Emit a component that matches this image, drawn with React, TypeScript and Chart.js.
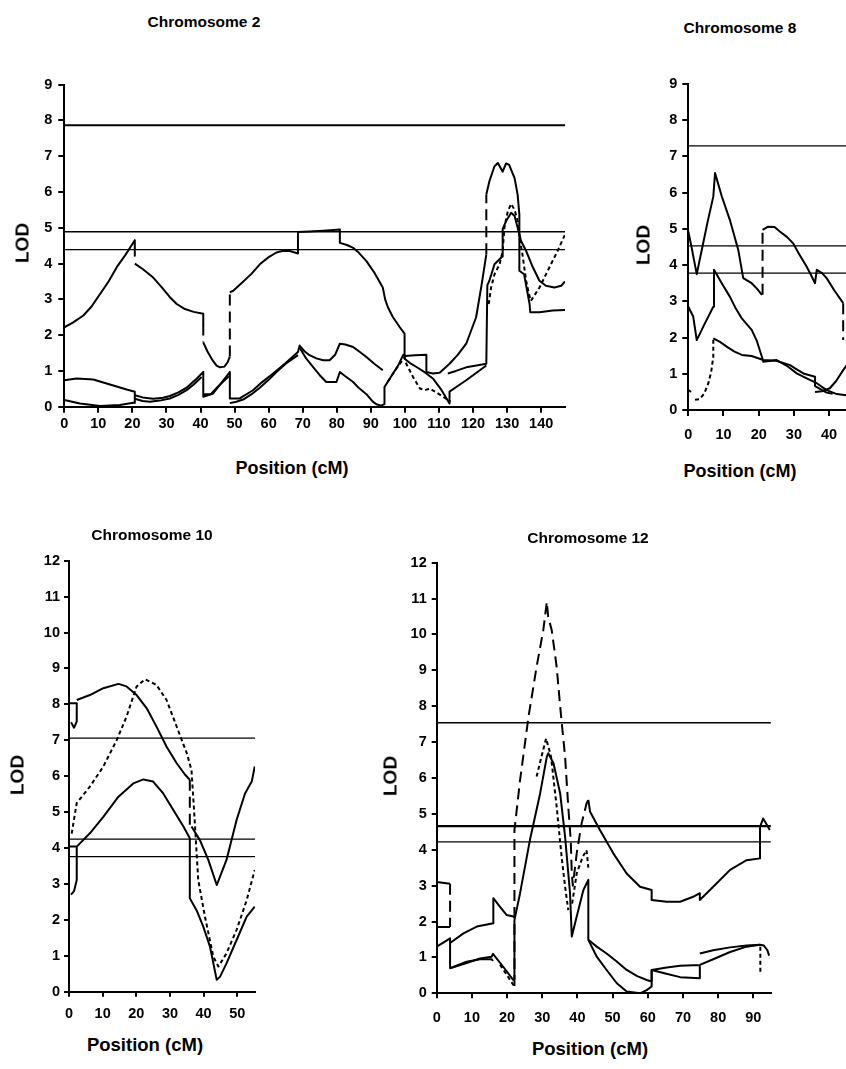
import React, { useEffect, useRef } from 'react';
import { Chart, registerables } from 'chart.js';
Chart.register(...registerables);

type Pt = [number, number] | null;

// ---------------- Chromosome 2 ----------------
const chr2Thresholds = [7.87, 4.89, 4.39];
const chr2Solid1: Pt[] = [
  [0, 2.22], [2.5, 2.35], [5.6, 2.55], [8, 2.8], [10.5, 3.15], [13, 3.5], [15.4, 3.9], [18, 4.25], [20.7, 4.65], [20.7, 4.22], null,
  [20.7, 4.0], [23, 3.85], [26.1, 3.61], [28.5, 3.35], [31, 3.06], [33, 2.87], [35.4, 2.73], [38, 2.65], [40.8, 2.6], [40.8, 2.3], null,
  [40.8, 1.8], [42, 1.55], [43.5, 1.3], [44.7, 1.15], [45.7, 1.1], [47, 1.12], [48, 1.25], [48.6, 1.4], null,
  [48.6, 3.2], [49.6, 3.24], [52, 3.45], [55, 3.72], [57.4, 3.98], [60, 4.18], [62.3, 4.31], [64, 4.35], [66.2, 4.35], [68.6, 4.28], [68.6, 4.88],
  [72, 4.9], [76, 4.92], [80.9, 4.95], [80.9, 4.58], [83, 4.52], [84.8, 4.44], [86.5, 4.3], [88.7, 4.07], [91, 3.75], [93.5, 3.33], [94.2, 3.0],
  [95, 2.78], [96.5, 2.5], [98.5, 2.22], [99.9, 2.04], [99.9, 1.34],
];
const chr2Dash1: Pt[] = [[40.8, 2.3], [40.8, 1.8], null, [48.6, 1.4], [48.6, 3.2], null, [123.9, 4.26], [123.9, 5.93]];
const chr2Solid2: Pt[] = [[0, 0.74], [3.6, 0.79], [8.5, 0.76], [13.4, 0.62], [18.3, 0.48], [20.7, 0.42], [20.7, 0.1]];
const chr2Solid3: Pt[] = [[0, 0.19], [4.6, 0.09], [10.5, 0.02], [16.3, 0.05], [20.7, 0.12]];
const chr2Solid4: Pt[] = [
  [20.7, 0.32], [23, 0.26], [26.1, 0.22], [29, 0.25], [31, 0.3], [33.5, 0.4], [35.9, 0.53], [38.5, 0.75], [40.8, 0.97], [40.8, 0.28],
  [43.7, 0.37], [46, 0.65], [48.6, 0.97], [48.6, 0.23], [51.5, 0.23], [55.4, 0.46], [58, 0.68], [61.3, 0.93], [65, 1.22], [68.6, 1.53],
  [69.1, 1.71], [70.5, 1.55], [72, 1.44], [74, 1.35], [76, 1.3], [77.9, 1.3], [79.5, 1.45], [80.9, 1.76], [82.5, 1.74], [84.8, 1.67],
  [86.5, 1.55], [88.7, 1.39], [91, 1.2], [93.5, 1.02],
];
const chr2Solid5: Pt[] = [
  [20.7, 0.22], [23, 0.16], [25.1, 0.14], [28, 0.17], [31, 0.23], [33.5, 0.33], [35.9, 0.46], [38, 0.62], [40.3, 0.83], null,
  [40.8, 0.35], [43, 0.35], [45, 0.55], [48.3, 0.85], null,
  [48.6, 0.1], [50.5, 0.14], [52.5, 0.2], [55, 0.35], [57.4, 0.53], [60, 0.75], [62.3, 0.97], [65, 1.2], [68.6, 1.44],
];
const chr2Solid6: Pt[] = [
  [69.1, 1.65], [71, 1.35], [73, 1.11], [75, 0.88], [76.9, 0.69], [79.9, 0.69], [80.9, 0.97], [82.5, 0.85], [84.8, 0.69], [86.5, 0.52],
  [88.7, 0.35], [90.5, 0.15], [91.6, 0.07], [93, 0.03], [94, 0.07], [94, 0.55], [96, 0.85], [98, 1.15], [99.5, 1.45], [100, 1.42],
  [103, 1.44], [106.3, 1.45], [106.3, 0.97], [108.2, 0.93], [110.2, 0.95], [113.1, 1.2], [115.5, 1.45], [118, 1.76], [120.9, 2.5],
  [122.5, 3.4], [123.9, 4.26],
];
const chr2Solid7: Pt[] = [
  [123.9, 5.93], [124.8, 6.3], [126.3, 6.72], [127.3, 6.81], [128.7, 6.57], [129.7, 6.8], [130.6, 6.76], [132.2, 6.39], [133.1, 5.92],
  [133.6, 5.37], [133.6, 3.8], [135, 3.7], [136.6, 2.87], [136.8, 2.64], [139.5, 2.64], [143.4, 2.69], [147, 2.7],
];
const chr2Solid8: Pt[] = [
  [99.9, 1.34], [101.5, 1.22], [103.4, 1.11], [106, 0.95], [108.2, 0.79], [110.5, 0.5], [113.1, 0.09], [113.1, 0.42], [115.5, 0.58],
  [118, 0.74], [121, 0.95], [123.9, 1.15], null,
  [112.6, 0.93], [115, 1.0], [118, 1.1], [121, 1.15], [123.9, 1.2], [124.2, 3.4], [124.8, 3.52], [126.3, 3.98], [128.3, 4.17], [128.7, 4.2],
  [128.7, 4.96], [129.7, 5.19], [131.2, 5.42], [132.2, 5.33], [133.1, 5.0], [134.1, 4.63], [135.6, 4.35], [137.6, 3.89], [139.5, 3.52],
  [141.4, 3.38], [143.9, 3.33], [145.9, 3.38], [147, 3.5],
];
const chr2Dot: Pt[] = [
  [95, 0.7], [97, 1.0], [99.9, 1.38], [100.4, 1.2], [102.4, 0.83], [104.4, 0.51], [105.8, 0.46], [107.3, 0.51], [109.7, 0.37], [113.4, 0.14], null,
  [124.6, 2.87], [125.3, 3.33], [126.3, 3.7], [127.8, 3.98], [128.7, 4.35], [129.2, 5.0], [130.2, 5.46], [131.2, 5.67], [132.2, 5.5],
  [133.1, 5.19], [133.8, 4.63], [134.5, 4.26], [135.6, 3.52], [136.4, 3.15], [137, 2.96], [139.5, 3.33], [142.4, 3.89], [144.8, 4.35], [147, 4.81],
];

// ---------------- Chromosome 8 ----------------
const chr8Thresholds = [7.29, 4.53, 3.78];
const chr8Solid1: Pt[] = [
  [0, 4.93], [0.9, 4.51], [1.5, 4.2], [2.4, 3.75], [4, 4.5], [5.5, 5.2], [7.1, 5.89], [7.6, 6.54], [9.5, 5.9], [11.8, 5.25], [14.2, 4.42],
  [15.6, 3.64], [18, 3.5], [19.5, 3.35], [20.9, 3.18],
];
const chr8Dash: Pt[] = [[21.1, 3.18], [21.1, 4.97], null, [44, 2.95], [44, 1.93]];
const chr8Solid2: Pt[] = [
  [21.1, 4.97], [22.7, 5.06], [24.5, 5.05], [26, 4.93], [28, 4.78], [29.8, 4.6], [31.5, 4.3], [33.6, 3.96], [35, 3.7], [36, 3.5], [36.5, 3.87],
  [38, 3.78], [39.3, 3.64], [41.5, 3.3], [44, 2.95],
];
const chr8Solid3: Pt[] = [
  [0, 2.85], [1.4, 2.58], [2.4, 1.93], [4.5, 2.35], [7.1, 2.85], [7.3, 3.87], [9.5, 3.5], [11.8, 3.13], [13.5, 2.8], [15.2, 2.53], [18, 2.21],
  [19.5, 1.9], [20.9, 1.47], [21.3, 1.33], [23, 1.35], [25.1, 1.38], [28, 1.22], [30.8, 1.01], [33.5, 0.88], [36.5, 0.74], [39.3, 0.55],
  [42.2, 0.44], [44.8, 0.41], [47, 0.4],
];
const chr8Solid4: Pt[] = [
  [7.1, 1.98], [9, 1.88], [10.9, 1.75], [13, 1.62], [15.2, 1.52], [18, 1.49], [21.3, 1.38], [25, 1.36], [28.9, 1.24], [30.8, 1.12], [32.7, 1.01],
  [36, 0.92], [36, 0.66], [39.3, 0.48], [41, 0.45],
];
const chr8Solid5: Pt[] = [[36, 0.5], [38, 0.52], [40.2, 0.6], [42, 0.8], [44, 1.1], [45.5, 1.3], [47, 1.6]];
const chr8Dot: Pt[] = [[0, 0.55], [0.8, 0.5], null, [1.9, 0.28], [3.2, 0.3], [4.5, 0.45], [5.7, 0.74], [6.5, 1.05], [7.1, 1.47], [7.1, 1.98]];

// ---------------- Chromosome 10 ----------------
const chr10Thresholds = [7.06, 4.25, 3.76];
const chr10Solid1: Pt[] = [
  [0, 8.03], [2.3, 8.03], [2.3, 7.52], [1.5, 7.35], [0.6, 7.5], null,
  [2.3, 8.12], [6.2, 8.26], [10.2, 8.45], [14.7, 8.57], [17.1, 8.5], [20.1, 8.26], [23.1, 7.89], [26, 7.38], [29, 6.82], [32, 6.36],
  [34.5, 6.04], [35.9, 5.9], null,
  [36.4, 4.6], [38.9, 4.22], [41.4, 3.67], [43.9, 2.97], [46.8, 3.67], [49.8, 4.78], [52.3, 5.52], [54.3, 5.85], [55.2, 6.27],
];
const chr10Dash: Pt[] = [[35.9, 5.9], [35.9, 4.6]];
const chr10Dot: Pt[] = [
  [0.8, 4.4], [1.5, 4.8], [2.3, 5.25], [6.2, 5.71], [10.2, 6.27], [14.2, 7.01], [17.1, 7.66], [20.1, 8.5], [22.6, 8.7], [26, 8.54], [29, 8.12],
  [32, 7.38], [35, 6.64], [36.4, 6.17], [37.2, 5.0], [38.4, 3.11], [40.4, 2.09], [42.9, 0.97], [44.4, 0.7], [46.8, 1.07], [49.8, 1.72],
  [52.8, 2.55], [55.2, 3.39],
];
const chr10Solid2: Pt[] = [
  [0, 4.04], [2.3, 4.04], [2.3, 3.11], [1.5, 2.8], [0.6, 2.7], null,
  [2.3, 4.04], [6.2, 4.41], [10.2, 4.87], [14.7, 5.43], [19.1, 5.8], [22.1, 5.91], [25, 5.85], [28, 5.52], [31, 5.06], [34, 4.6], [35.9, 4.27],
  [35.9, 2.6], [37.9, 2.27], [39.9, 1.81], [41.9, 1.25], [43.9, 0.33], [44.9, 0.42], [46.8, 0.79], [49.8, 1.44], [52.8, 2.09], [55.2, 2.37],
];

// ---------------- Chromosome 12 ----------------
const chr12Thresholds = [7.54, 4.66, 4.22];
const chr12Dash: Pt[] = [
  [3.8, 3.05], [3.8, 1.85], null,
  [22.1, 0.2], [22.1, 4.55], [23.7, 5.94], [26.1, 7.71], [28.4, 9.1], [30.3, 10.12], [31.3, 10.91], [31.7, 10.49], [32.7, 10.12], [34.1, 9.1],
  [35.1, 7.99], [36.5, 6.59], [37.4, 5.2], [38.1, 4.27], [38.4, 3.34], [38.7, 3.0], [39.8, 3.9], [41.2, 4.74], [42.6, 5.29], [43.1, 5.39],
];
const chr12Solid1: Pt[] = [[0, 3.1], [3.8, 3.05], null, [0, 1.85], [3.8, 1.85]];
const chr12Solid2: Pt[] = [
  [0, 1.3], [2, 1.42], [3.8, 1.53], [3.8, 0.7], [8.5, 0.84], [12.3, 0.97], [15.6, 1.02], [16, 1.1], [18.9, 0.74], [21.8, 0.37], [22.1, 0.4],
  [22.1, 2.04], [23.7, 2.79], [26.5, 4.27], [29.4, 5.57], [31.3, 6.59], [31.7, 6.69], [33.2, 6.41], [35.1, 5.57], [36.5, 4.36], [37.9, 2.79],
  [38.4, 1.58], [39.8, 2.14], [41.7, 2.88], [43.1, 3.16], [43.1, 1.49], [45.5, 1.02], [48.3, 0.65], [51.2, 0.28], [54, 0.05], [57.8, 0.0],
  [59.7, 0.09], [61.1, 0.19], [61.1, 0.65], [65.4, 0.72], [69.2, 0.77], [74.8, 0.79], [74.8, 0.42], [69.2, 0.45], [65, 0.55], [61.1, 0.65], null,
  [74.8, 0.79], [78.6, 0.95], [83.4, 1.15], [88.1, 1.3], [91.9, 1.35],
];
const chr12Solid3: Pt[] = [[3.8, 1.4], [7.6, 1.67], [11.4, 1.86], [16.1, 1.95], [16.1, 2.65], [18, 2.41], [19.9, 2.18], [21.8, 2.14], [22.1, 2.1]];
const chr12Solid4: Pt[] = [[4.3, 0.72], [8.5, 0.88], [12.3, 0.95], [15.6, 0.95], [16, 0.9]];
const chr12Solid5: Pt[] = [[43.1, 1.49], [45.5, 1.3], [48.3, 1.11], [51, 0.9], [54, 0.65], [57, 0.48], [59.7, 0.37], [61.1, 0.33], [61.1, 0.65]];
const chr12Solid6: Pt[] = [
  [43.1, 5.39], [43.6, 5.06], [46.4, 4.55], [50.2, 3.9], [54, 3.34], [57.8, 2.97], [61.1, 2.88], [61.1, 2.6], [65.4, 2.55], [69.2, 2.55],
  [72.9, 2.69], [74.8, 2.79], [74.8, 2.6], [78.6, 2.97], [83.4, 3.44], [88.1, 3.71], [91.9, 3.76], [91.9, 4.64], [92.8, 4.87], [94.7, 4.55],
];
const chr12Solid7: Pt[] = [[74.8, 1.11], [78.6, 1.2], [83.4, 1.28], [88.1, 1.33], [91.9, 1.35], [93, 1.33], [94, 1.2], [94.5, 1.05]];
const chr12Dot: Pt[] = [
  [18, 0.8], [20, 0.5], [22, 0.2], null,
  [28.4, 6.04], [29.8, 6.6], [31.1, 7.1], [32.5, 6.6], [34.1, 5.2], [35.5, 3.81], [36.5, 2.97], [37.4, 2.32], null,
  [38.5, 2.5], [39.8, 3.34], [41.5, 3.8], [42.6, 3.99], [43.1, 3.5], null,
  [92, 1.3], [92, 0.55],
];

// ---------------- rendering ----------------
const DASHES: Record<string, number[]> = { solid: [], dash: [11, 6], dot: [4, 3] };
const FONT = "'Liberation Sans', Arial, Helvetica, sans-serif";

type SeriesDef = { pts: Pt[]; style: 'solid' | 'dash' | 'dot' };
type PanelCfg = {
  canvas: { l: number; t: number; w: number; h: number };
  area: { l: number; t: number; r: number; b: number };
  xMax: number;
  yMax: number;
  tickLen: number;
  xPad: number;
  yPad: number;
  thresholds: number[];
  thresholdWidths: number[];
  series: SeriesDef[];
};

function toXY(pts: Pt[]) {
  let prev = 0;
  return pts.map((p) => {
    if (p) {
      prev = p[0];
      return { x: p[0], y: p[1] };
    }
    return { x: prev, y: null as any };
  });
}

function Panel({ cfg }: { cfg: PanelCfg }) {
  const ref = useRef<HTMLCanvasElement>(null);
  useEffect(() => {
    const c = cfg;
    const yWidth = c.area.l - c.canvas.l;
    const padTop = c.area.t - c.canvas.t;
    const padRight = c.canvas.l + c.canvas.w - c.area.r;
    const xHeight = c.canvas.t + c.canvas.h - c.area.b;
    const datasets: any[] = [];
    c.thresholds.forEach((v, i) => {
      datasets.push({
        data: [{ x: 0, y: v }, { x: c.xMax, y: v }],
        borderColor: '#000',
        borderWidth: c.thresholdWidths[i],
        pointRadius: 0,
        fill: false,
      });
    });
    c.series.forEach((s) => {
      datasets.push({
        data: toXY(s.pts),
        borderColor: '#000',
        borderWidth: 2,
        borderDash: DASHES[s.style],
        pointRadius: 0,
        fill: false,
        spanGaps: false,
        tension: 0,
        borderJoinStyle: 'round',
      });
    });
    const tickFont = { family: FONT, size: 14.5, weight: 'bold' as const };
    const chart = new Chart(ref.current as HTMLCanvasElement, {
      type: 'line',
      data: { datasets },
      options: {
        responsive: false,
        animation: false,
        devicePixelRatio: 1,
        layout: { padding: { left: 0, top: padTop, right: padRight, bottom: 0 } },
        plugins: { legend: { display: false }, tooltip: { enabled: false }, title: { display: false } },
        elements: { point: { radius: 0 }, line: { tension: 0 } },
        scales: {
          x: {
            type: 'linear',
            min: 0,
            max: c.xMax,
            afterFit: (s: any) => { s.height = xHeight; },
            ticks: { stepSize: 10, includeBounds: false, color: '#000', font: tickFont, padding: c.xPad, maxRotation: 0, autoSkip: false },
            grid: { drawOnChartArea: false, drawTicks: true, tickLength: c.tickLen, color: '#000', lineWidth: 2 },
            border: { display: true, color: '#000', width: 2 },
          },
          y: {
            type: 'linear',
            min: 0,
            max: c.yMax,
            afterFit: (s: any) => { s.width = yWidth; },
            ticks: { stepSize: 1, includeBounds: false, color: '#000', font: tickFont, padding: c.yPad, autoSkip: false },
            grid: { drawOnChartArea: false, drawTicks: true, tickLength: c.tickLen, color: '#000', lineWidth: 2 },
            border: { display: true, color: '#000', width: 2 },
          },
        },
      } as any,
    });
    return () => chart.destroy();
  }, [cfg]);
  return (
    <canvas
      ref={ref}
      width={cfg.canvas.w}
      height={cfg.canvas.h}
      style={{ position: 'absolute', left: cfg.canvas.l, top: cfg.canvas.t, width: cfg.canvas.w, height: cfg.canvas.h }}
    />
  );
}

const panels: PanelCfg[] = [
  {
    canvas: { l: 0, t: 70, w: 580, h: 380 },
    area: { l: 64.3, t: 82.7, r: 565, b: 406.7 },
    xMax: 147, yMax: 9, tickLen: 6, xPad: 3, yPad: 6,
    thresholds: chr2Thresholds, thresholdWidths: [2, 1.3, 1.3],
    series: [
      { pts: chr2Solid1, style: 'solid' }, { pts: chr2Dash1, style: 'dash' }, { pts: chr2Solid2, style: 'solid' },
      { pts: chr2Solid3, style: 'solid' }, { pts: chr2Solid4, style: 'solid' }, { pts: chr2Solid5, style: 'solid' },
      { pts: chr2Solid6, style: 'solid' }, { pts: chr2Solid7, style: 'solid' }, { pts: chr2Solid8, style: 'solid' },
      { pts: chr2Dot, style: 'dot' },
    ],
  },
  {
    canvas: { l: 600, t: 70, w: 300, h: 380 },
    area: { l: 688.3, t: 84, r: 864.3, b: 410 },
    xMax: 50, yMax: 9, tickLen: 6, xPad: 10, yPad: 5,
    thresholds: chr8Thresholds, thresholdWidths: [1.3, 1.3, 1.3],
    series: [
      { pts: chr8Solid1, style: 'solid' }, { pts: chr8Dash, style: 'dash' }, { pts: chr8Solid2, style: 'solid' },
      { pts: chr8Solid3, style: 'solid' }, { pts: chr8Solid4, style: 'solid' }, { pts: chr8Solid5, style: 'solid' },
      { pts: chr8Dot, style: 'dot' },
    ],
  },
  {
    canvas: { l: 0, t: 540, w: 275, h: 480 },
    area: { l: 69, t: 560.7, r: 255.1, b: 991.7 },
    xMax: 55.3, yMax: 12, tickLen: 5, xPad: 9, yPad: 4,
    thresholds: chr10Thresholds, thresholdWidths: [1.3, 1.3, 1.3],
    series: [
      { pts: chr10Solid1, style: 'solid' }, { pts: chr10Dash, style: 'dash' }, { pts: chr10Dot, style: 'dot' },
      { pts: chr10Solid2, style: 'solid' },
    ],
  },
  {
    canvas: { l: 340, t: 540, w: 450, h: 490 },
    area: { l: 436.7, t: 562.7, r: 770.9, b: 993.3 },
    xMax: 95, yMax: 12, tickLen: 5, xPad: 11, yPad: 5,
    thresholds: chr12Thresholds, thresholdWidths: [1.3, 2.2, 1.3],
    series: [
      { pts: chr12Dash, style: 'dash' }, { pts: chr12Solid1, style: 'solid' }, { pts: chr12Solid2, style: 'solid' },
      { pts: chr12Solid3, style: 'solid' }, { pts: chr12Solid4, style: 'solid' }, { pts: chr12Solid5, style: 'solid' },
      { pts: chr12Solid6, style: 'solid' }, { pts: chr12Solid7, style: 'solid' }, { pts: chr12Dot, style: 'dot' },
    ],
  },
];

type Lbl = { text: string; x: number; y: number; size: number; rot?: boolean };
const labels: Lbl[] = [
  { text: 'Chromosome 2', x: 204, y: 22, size: 15.5 },
  { text: 'Chromosome 8', x: 740, y: 28, size: 15.5 },
  { text: 'Chromosome 10', x: 152, y: 535, size: 15.5 },
  { text: 'Chromosome 12', x: 588, y: 538, size: 15.5 },
  { text: 'Position (cM)', x: 292, y: 468, size: 18 },
  { text: 'Position (cM)', x: 740, y: 471, size: 18 },
  { text: 'Position (cM)', x: 145, y: 1045, size: 18.5 },
  { text: 'Position (cM)', x: 590, y: 1049, size: 18.5 },
  { text: 'LOD', x: 22, y: 243, size: 19, rot: true },
  { text: 'LOD', x: 643, y: 245, size: 19, rot: true },
  { text: 'LOD', x: 17, y: 775, size: 19, rot: true },
  { text: 'LOD', x: 390, y: 776, size: 19, rot: true },
];

export default function App() {
  return (
    <div style={{ position: 'absolute', left: 0, top: 0, width: 846, height: 1069, overflow: 'hidden', background: '#fff' }}>
      {panels.map((p, i) => (
        <Panel key={i} cfg={p} />
      ))}
      {labels.map((l, i) => (
        <div
          key={'l' + i}
          style={{
            position: 'absolute',
            left: l.x,
            top: l.y,
            transform: 'translate(-50%, -50%)' + (l.rot ? ' rotate(-90deg)' : ''),
            fontFamily: FONT,
            fontWeight: 'bold',
            fontSize: l.size,
            lineHeight: 1,
            whiteSpace: 'nowrap',
            color: '#000',
          }}
        >
          {l.text}
        </div>
      ))}
    </div>
  );
}
